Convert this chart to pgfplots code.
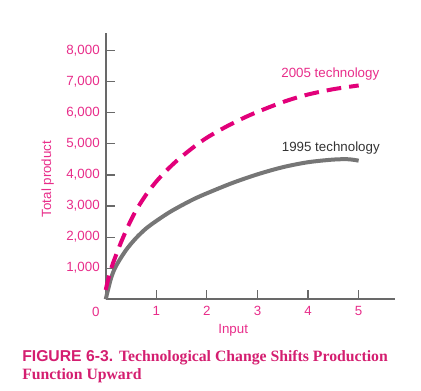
\documentclass[border=0pt]{standalone}
\usepackage{fontspec}
\setmainfont{Liberation Sans}
\newfontfamily\capsans{Liberation Sans}
\newfontfamily\capserif{Liberation Serif}
\usepackage{pgfplots}
\pgfplotsset{compat=1.18}
\definecolor{pinktext}{RGB}{232,45,138}
\definecolor{magline}{RGB}{226,0,122}
\definecolor{grayline}{RGB}{118,118,118}
\definecolor{axisgray}{RGB}{105,105,105}
\definecolor{capcol}{RGB}{212,30,112}
\begin{document}
\begin{tikzpicture}
\path[use as bounding box] (0pt,0pt) rectangle (315.75pt,293.25pt);
\begin{axis}[
  at={(79.3pt,68.8pt)}, anchor=south west,
  scale only axis, width=217pt, height=199.5pt,
  xmin=0, xmax=5.72, ymin=0, ymax=8560,
  axis lines=left,
  axis line style={-, draw=axisgray, line width=1.2pt},
  tick align=inside,
  major tick length=7pt,
  tick style={draw=axisgray, line width=0.9pt},
  xtick={1,2,3,4,5},
  ytick={1000,2000,3000,4000,5000,6000,7000,8000},
  /pgf/number format/assume math mode=true,
  /pgf/number format/1000 sep={,},
  scaled y ticks=false,
  tick label style={font=\fontsize{10}{12}\selectfont, text=pinktext},
  xticklabel style={yshift=-2pt},
  yticklabel style={xshift=-1pt},
  clip=false,
]
\addplot[grayline, line width=3pt, smooth] coordinates {
 (0,0) (0.1,650) (0.2,1060) (0.4,1580) (0.6,1970) (0.8,2280) (1.0,2520)
 (1.25,2790) (1.5,3020) (1.75,3230) (2.0,3410) (2.5,3740) (3.0,4020)
 (3.5,4250) (4.0,4410) (4.5,4495) (4.8,4505) (5.0,4460)
};
\addplot[magline, line width=3pt, dash pattern=on 11pt off 6pt, smooth] coordinates {
 (0,300) (0.05,650) (0.12,1050) (0.22,1490) (0.32,1900) (0.45,2380)
 (0.6,2860) (0.8,3370) (1.0,3790) (1.2,4140) (1.4,4450) (1.7,4850)
 (2.0,5200) (2.4,5570) (2.8,5890) (3.2,6160) (3.6,6400) (4.0,6590)
 (4.5,6760) (5.0,6880)
};
\node[font=\fontsize{10}{12}\selectfont, text=pinktext] at (axis cs:0,0) [xshift=-7.5pt, yshift=-9.3pt] {0};
\node[font=\fontsize{10}{12}\selectfont, text=pinktext] at (axis cs:2.52,0) [yshift=-23pt] {Input};
\node[font=\fontsize{10}{12}\selectfont, text=pinktext, xshift=-43.5pt, rotate=90] at (axis cs:0,3870) {Total product};
\node[font=\fontsize{10}{12}\selectfont, text=pinktext] at (axis cs:4.44,7260) {2005 technology};
\node[font=\fontsize{10}{12}\selectfont, text=black!80] at (axis cs:4.45,4870) {1995 technology};
\end{axis}
\node[anchor=base west, text=capcol, inner sep=0pt] at (16.5pt,22pt) {\fontsize{11.8}{13}\selectfont{\capsans\bfseries FIGURE 6-3.} {\capserif\bfseries Technological Change Shifts Production}};
\node[anchor=base west, text=capcol, inner sep=0pt] at (16.5pt,8.3pt) {\fontsize{11.8}{13}\selectfont\capserif\bfseries Function Upward};
\end{tikzpicture}
\end{document}
